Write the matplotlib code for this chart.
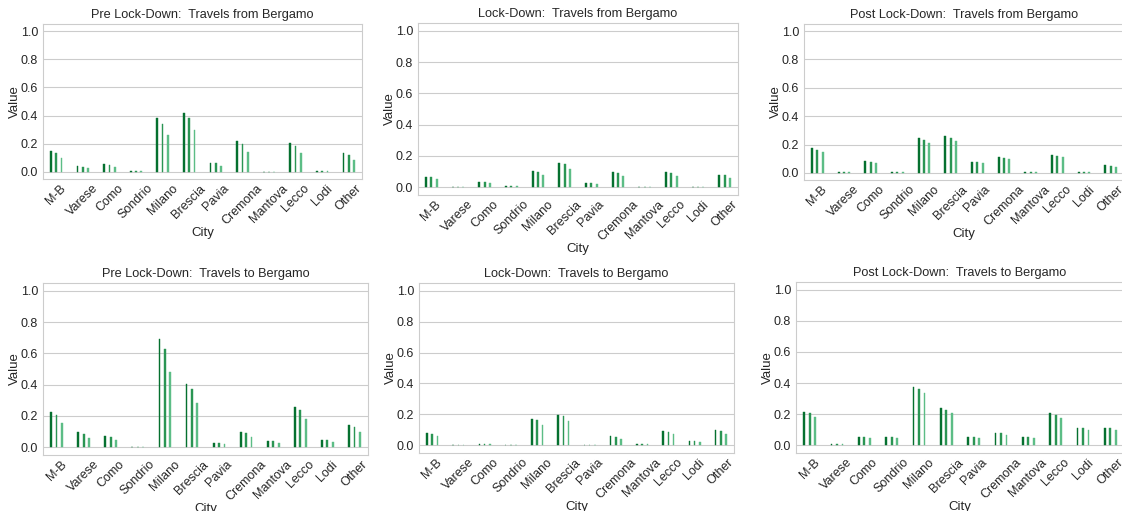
import numpy as np
import matplotlib
matplotlib.use("Agg")
import matplotlib.pyplot as plt
import seaborn as sns

cities = ["M-B", "Varese", "Como", "Sondrio", "Milano", "Brescia", "Pavia",
          "Cremona", "Mantova", "Lecco", "Lodi", "Other"]

# three bars per city (dark, mid, light green)
pre_from = [[0.152, 0.040, 0.057, 0.005, 0.381, 0.417, 0.067, 0.221, 0.003, 0.202, 0.010, 0.131],
            [0.136, 0.036, 0.050, 0.005, 0.343, 0.381, 0.060, 0.200, 0.003, 0.186, 0.010, 0.117],
            [0.100, 0.026, 0.038, 0.005, 0.260, 0.295, 0.045, 0.145, 0.003, 0.138, 0.010, 0.086]]
lock_from = [[0.068, 0.004, 0.036, 0.010, 0.102, 0.155, 0.028, 0.096, 0.004, 0.096, 0.002, 0.081],
             [0.064, 0.004, 0.034, 0.010, 0.098, 0.147, 0.026, 0.091, 0.004, 0.089, 0.002, 0.077],
             [0.051, 0.004, 0.028, 0.010, 0.077, 0.119, 0.021, 0.074, 0.004, 0.074, 0.002, 0.060]]
post_from = [[0.174, 0.005, 0.082, 0.005, 0.249, 0.261, 0.080, 0.113, 0.005, 0.127, 0.005, 0.054],
             [0.162, 0.005, 0.078, 0.005, 0.235, 0.249, 0.075, 0.108, 0.005, 0.122, 0.005, 0.049],
             [0.146, 0.005, 0.071, 0.005, 0.209, 0.228, 0.068, 0.096, 0.005, 0.111, 0.005, 0.045]]
pre_to = [[0.222, 0.094, 0.073, 0.003, 0.693, 0.404, 0.028, 0.098, 0.041, 0.259, 0.047, 0.145],
          [0.203, 0.083, 0.066, 0.003, 0.631, 0.370, 0.026, 0.090, 0.038, 0.237, 0.043, 0.130],
          [0.154, 0.060, 0.047, 0.003, 0.483, 0.284, 0.019, 0.066, 0.028, 0.182, 0.030, 0.098]]
lock_to = [[0.082, 0.002, 0.009, 0.003, 0.172, 0.198, 0.003, 0.058, 0.009, 0.090, 0.028, 0.099],
           [0.075, 0.002, 0.009, 0.003, 0.163, 0.187, 0.003, 0.054, 0.009, 0.086, 0.026, 0.092],
           [0.058, 0.002, 0.009, 0.003, 0.133, 0.157, 0.003, 0.041, 0.009, 0.073, 0.019, 0.075]]
post_to = [[0.216, 0.005, 0.055, 0.055, 0.375, 0.239, 0.055, 0.080, 0.055, 0.208, 0.114, 0.114],
           [0.205, 0.005, 0.051, 0.051, 0.362, 0.229, 0.051, 0.076, 0.051, 0.195, 0.110, 0.108],
           [0.182, 0.005, 0.044, 0.044, 0.337, 0.210, 0.044, 0.068, 0.044, 0.174, 0.097, 0.097]]

titles = ["Pre Lock-Down:  Travels from Bergamo", "Lock-Down:  Travels from Bergamo",
          "Post Lock-Down:  Travels from Bergamo", "Pre Lock-Down:  Travels to Bergamo",
          "Lock-Down:  Travels to Bergamo", "Post Lock-Down:  Travels to Bergamo"]
panels = [pre_from, lock_from, post_from, pre_to, lock_to, post_to]

colors = ["#05702f", "#2a9553", "#5cbd86"]
offsets = [-0.2, 0.0, 0.2]

sns.set_style("whitegrid")
plt.rcParams['font.family'] = ['Liberation Sans', 'DejaVu Sans']

W, H = 1122, 511
fig = plt.figure(figsize=(W / 100, H / 100), dpi=100)

# axes boxes in pixels: left, right, top, bottom
boxes = [(43, 362, 24, 179), (418, 738, 23, 195), (804, 1124, 24, 180),
         (43, 368, 283, 455), (419, 734, 283, 453), (796, 1124, 282, 453)]

x = np.arange(len(cities))
for box, title, data in zip(boxes, titles, panels):
    l, r, t, b = box
    ax = fig.add_axes([l / W, 1 - b / H, (r - l) / W, (b - t) / H])
    for vals, off, c in zip(data, offsets, colors):
        # thin edge keeps the tiny values visible as small stubs
        ax.bar(x + off, vals, width=0.065, color=c, linewidth=0.3, edgecolor=c)
    ax.set_xlim(-0.5, len(cities) - 0.5)
    ax.set_ylim(-0.05, 1.05)
    ax.set_yticks([0.0, 0.2, 0.4, 0.6, 0.8, 1.0])
    ax.set_xticks(x)
    ax.set_xticklabels(cities, rotation=45, fontsize=9)
    ax.tick_params(axis='y', labelsize=9, pad=0)
    ax.tick_params(axis='x', pad=-1)
    ax.xaxis.grid(False)
    ax.set_xlabel("City", fontsize=9.5, labelpad=0)
    ax.set_ylabel("Value", fontsize=9.5, labelpad=0)
    ax.set_title(title, fontsize=9.2, pad=4)

fig.savefig("out.png", dpi=100)
